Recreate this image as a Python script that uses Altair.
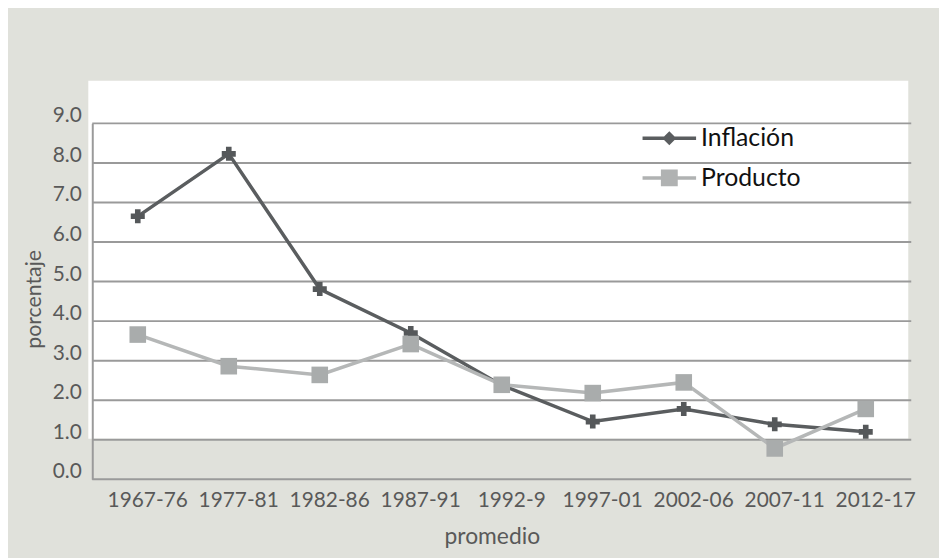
import altair as alt
import pandas as pd

periodos = ["1967-76", "1977-81", "1982-86", "1987-91", "1992-9",
            "1997-01", "2002-06", "2007-11", "2012-17"]
inflacion = [6.65, 8.23, 4.81, 3.70, 2.38, 1.46, 1.78, 1.39, 1.20]
producto = [3.66, 2.86, 2.64, 3.42, 2.39, 2.18, 2.45, 0.78, 1.78]
series = ["Inflación", "Producto"]
y_ticks = [0, 1, 2, 3, 4, 5, 6, 7, 8, 9]

colores_linea = ["#5a5d5f", "#b5b7b7"]
colores_marca = ["#55585a", "#a9acac"]
formas = ["cross", "square"]
tamanos = [200, 280]

df = pd.DataFrame({
    "periodo": periodos * 2,
    "serie": [series[0]] * len(periodos) + [series[1]] * len(periodos),
    "valor": inflacion + producto,
})
df_grid = pd.DataFrame({"valor": y_ticks})

FONT = "Lato"
GRIS_TXT = "#595959"
GRID = "#9a9a9a"

x_enc = alt.X(
    "periodo:N", sort=periodos,
    scale=alt.Scale(type="point", padding=0.5),
    axis=alt.Axis(
        title="promedio", labelAngle=0, labelOffset=9.5, labelPadding=10,
        ticks=False, domain=False, grid=False,
        labelFont=FONT, labelFontSize=21, labelColor=GRIS_TXT,
        titleFont=FONT, titleFontSize=23, titleFontWeight="normal",
        titleColor=GRIS_TXT, titleX=403, titleY=65, titleBaseline="alphabetic",
        zindex=1,
    ),
)
y_enc = alt.Y(
    "valor:Q",
    scale=alt.Scale(domain=[0, 9], nice=False),
    axis=alt.Axis(
        title="porcentaje", values=y_ticks, format=".1f",
        ticks=False, grid=False, domain=True, domainColor=GRID, domainWidth=2,
        labelPadding=11, labelOffset=-7.5,
        labelFont=FONT, labelFontSize=21, labelColor=GRIS_TXT,
        titleFont=FONT, titleFontSize=21.5, titleFontWeight="normal",
        titleColor=GRIS_TXT, titleX=-52, titleY=177, titleAlign="center",
        titleBaseline="alphabetic", zindex=1,
    ),
)

# white panel behind the plot (decorative)
fondo = alt.Chart(pd.DataFrame({"a": [0]})).mark_rect(color="white").encode(
    x=alt.value(-4), x2=alt.value(823), y=alt.value(-43), y2=alt.value(318)
)

grid = alt.Chart(df_grid).mark_rule(color=GRID, strokeWidth=2).encode(y=y_enc)

capas = [fondo, grid]
for i, s in enumerate(series):
    base = alt.Chart(df).transform_filter(alt.datum.serie == s)
    capas.append(base.mark_line(color=colores_linea[i], strokeWidth=3.5).encode(x=x_enc, y=y_enc))
    capas.append(base.mark_point(filled=True, opacity=1, shape=formas[i], size=tamanos[i],
                                 color=colores_marca[i]).encode(x=x_enc, y=y_enc))

path_infl = ("M-2,-0.13L2,-0.13L2,0.13L-2,0.13Z "
             "M0,-0.52L0.52,0L0,0.52L-0.52,0Z")
path_prod = ("M-2,-0.13L2,-0.13L2,0.13L-2,0.13Z "
             "M-0.63,-0.63L0.63,-0.63L0.63,0.63L-0.63,0.63Z")

leyenda = alt.Legend(
    title=None, orient="none", legendX=568.5, legendY=1.5, padding=0,
    symbolSize=729, symbolStrokeWidth=0, labelOffset=18.5, rowPadding=13,
    labelFont=FONT, labelFontSize=25, labelColor="#111111",
)
leg = alt.Chart(df).transform_filter("datum.valor < 0").mark_point(filled=True, opacity=1).encode(
    color=alt.Color("serie:N", scale=alt.Scale(domain=series, range=[colores_linea[0], "#b0b2b2"]), legend=leyenda),
    shape=alt.Shape("serie:N", scale=alt.Scale(domain=series, range=[path_infl, path_prod]), legend=leyenda),
)
capas.append(leg)

chart = alt.layer(*capas).properties(
    width=826, height=359,
    padding={"left": 85, "top": 114, "right": 28, "bottom": 77},
    autosize=alt.AutoSizeParams(type="none"),
).configure(background="#e0e1db").configure_view(stroke="transparent")

chart.save("out.html", embed_options={"renderer": "svg", "actions": False})
